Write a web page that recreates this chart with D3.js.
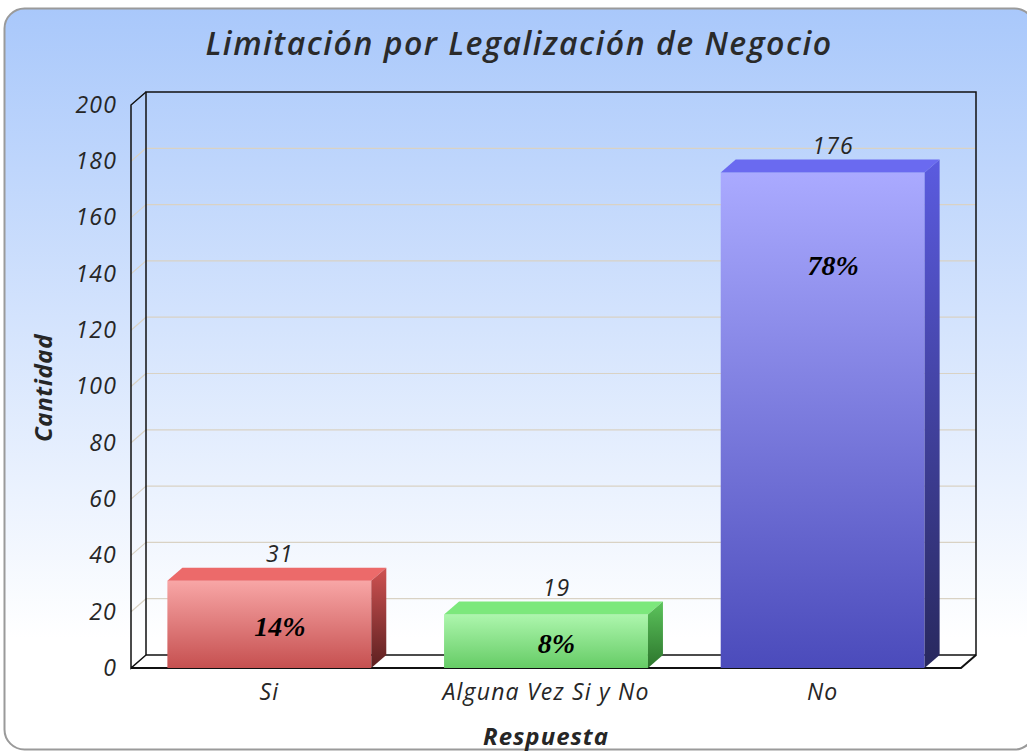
<!DOCTYPE html>
<html>
<head>
<meta charset="utf-8">
<script src="https://cdn.jsdelivr.net/npm/d3@7"></script>
<style>
  body { margin: 0; background: #fff; }
</style>
</head>
<body>
<div id="chart"></div>
<script>
'use strict';

const categories = ["Si", "Alguna Vez Si y No", "No"];
const counts = [31, 19, 176];
const percents = ["14%", "8%", "78%"];
const yTicks = [0, 20, 40, 60, 80, 100, 120, 140, 160, 180, 200];

// bar palettes: front top, front bottom, top face, side top, side bottom
const palettes = [
    ["#f8a6a6", "#c65050", "#ec6a6a", "#cf5252", "#5c2020"],
    ["#adf6ad", "#66cc66", "#7ce87c", "#5cc45c", "#2c752c"],
    ["#aaaaff", "#4b4bbb", "#6a6af0", "#5b5be0", "#28285e"]
];

const width = 1027, height = 752;
const plot = {left: 131, right: 961, top: 105, bottom: 668};
const depth = {dx: 15, dy: -13};
const sans = "'Open Sans', sans-serif";
const ink = "#262626";

const svg = d3.select("#chart").append("svg")
    .attr("width", width)
    .attr("height", height)
    .attr("font-family", sans);

const defs = svg.append("defs");

const bg = defs.append("linearGradient")
    .attr("id", "bg").attr("x1", 0).attr("y1", 0).attr("x2", 0).attr("y2", 1);
bg.append("stop").attr("offset", 0).attr("stop-color", "#a9c8fb");
bg.append("stop").attr("offset", 0.85).attr("stop-color", "#ffffff");
bg.append("stop").attr("offset", 1).attr("stop-color", "#ffffff");

palettes.forEach((p, i) => {
    const f = defs.append("linearGradient")
        .attr("id", "front" + i).attr("x1", 0).attr("y1", 0).attr("x2", 0).attr("y2", 1);
    f.append("stop").attr("offset", 0).attr("stop-color", p[0]);
    f.append("stop").attr("offset", 1).attr("stop-color", p[1]);
    const s = defs.append("linearGradient")
        .attr("id", "side" + i).attr("x1", 0).attr("y1", 0).attr("x2", 0).attr("y2", 1);
    s.append("stop").attr("offset", 0).attr("stop-color", p[3]);
    s.append("stop").attr("offset", 1).attr("stop-color", p[4]);
});

// panel
svg.append("rect")
    .attr("x", 4.5).attr("y", 8.5)
    .attr("width", 1030).attr("height", 741)
    .attr("rx", 20)
    .attr("fill", "url(#bg)")
    .attr("stroke", "#9a9a9a")
    .attr("stroke-width", 2);

svg.append("text")
    .attr("x", 519).attr("y", 55)
    .attr("text-anchor", "middle")
    .attr("font-size", 32)
    .attr("font-weight", 600)
    .attr("letter-spacing", 1.5)
    .attr("font-style", "italic")
    .attr("fill", "#2a2a2a")
    .text("Limitación por Legalización de Negocio");

const y = d3.scaleLinear().domain([0, 200]).range([plot.bottom, plot.top]);
const x = d3.scaleBand()
    .domain(categories)
    .range([plot.left, plot.right])
    .paddingInner(0.263)
    .paddingOuter(0.1315);

const g = svg.append("g");
const bx0 = plot.left + depth.dx, bx1 = plot.right + depth.dx;

// floor
g.append("polygon")
    .attr("points", [[plot.left, plot.bottom], [bx0, plot.bottom + depth.dy],
        [bx1, plot.bottom + depth.dy], [plot.right, plot.bottom]].join(" "))
    .attr("fill", "#ffffff");

// grid lines on back wall and left side wall
const inner = yTicks.filter(t => t > 0 && t < 200);
const grid = g.append("g")
    .attr("stroke", "#d9d2c4")
    .attr("stroke-width", 1.2);
grid.selectAll("line.back")
    .data(inner)
    .join("line")
    .attr("class", "back")
    .attr("x1", bx0).attr("x2", bx1)
    .attr("y1", d => y(d) + depth.dy).attr("y2", d => y(d) + depth.dy);
grid.selectAll("line.side")
    .data(inner)
    .join("line")
    .attr("class", "side")
    .attr("x1", plot.left).attr("x2", bx0)
    .attr("y1", d => y(d)).attr("y2", d => y(d) + depth.dy);

// frame
const frame = g.append("g")
    .attr("stroke", "#111")
    .attr("stroke-width", 1.5)
    .attr("fill", "none");
frame.append("path")
    .attr("d", `M${bx0},${plot.bottom + depth.dy}V${plot.top + depth.dy}H${bx1}V${plot.bottom + depth.dy}H${bx0}`);
frame.append("path")
    .attr("d", `M${bx0},${plot.top + depth.dy}L${plot.left},${plot.top}V${plot.bottom}L${bx0},${plot.bottom + depth.dy}`);
frame.append("path")
    .attr("d", `M${plot.left},${plot.bottom}H${plot.right}L${bx1},${plot.bottom + depth.dy}`)
    .attr("stroke-width", 2);

// bars
const bars = g.selectAll("g.bar")
    .data(categories.map((c, i) => ({cat: c, v: counts[i], pct: percents[i], i})))
    .join("g")
    .attr("class", "bar");

bars.append("rect")
    .attr("x", d => x(d.cat))
    .attr("y", d => y(d.v))
    .attr("width", x.bandwidth())
    .attr("height", d => y(0) - y(d.v))
    .attr("fill", d => `url(#front${d.i})`);

bars.append("polygon")
    .attr("points", d => {
        const x0 = x(d.cat), x1 = x0 + x.bandwidth(), yt = y(d.v);
        return [[x0, yt], [x0 + depth.dx, yt + depth.dy], [x1 + depth.dx, yt + depth.dy], [x1, yt]].join(" ");
    })
    .attr("fill", d => palettes[d.i][2]);

bars.append("polygon")
    .attr("points", d => {
        const x1 = x(d.cat) + x.bandwidth(), yt = y(d.v), yb = y(0);
        return [[x1, yt], [x1 + depth.dx, yt + depth.dy], [x1 + depth.dx, yb + depth.dy], [x1, yb]].join(" ");
    })
    .attr("fill", d => `url(#side${d.i})`);

bars.append("text")
    .attr("x", d => x(d.cat) + x.bandwidth() / 2 + depth.dx / 2 + 3)
    .attr("y", d => y(d.v) + depth.dy - 6)
    .attr("text-anchor", "middle")
    .attr("font-size", 23)
    .attr("letter-spacing", 1.2)
    .attr("font-style", "italic")
    .attr("fill", ink)
    .text(d => d.v);

bars.append("text")
    .attr("x", d => x(d.cat) + x.bandwidth() / 2 + depth.dx * 0.7)
    .attr("y", d => Math.min((y(d.v) + y(0)) / 2 + 2, y(d.v) + 93))
    .attr("dy", "0.35em")
    .attr("text-anchor", "middle")
    .attr("font-family", "'Liberation Serif', 'Times New Roman', serif")
    .attr("font-size", 28)
    .attr("font-weight", "bold")
    .attr("font-style", "italic")
    .attr("fill", "#000")
    .text(d => d.pct);

// y axis labels
const yAxis = svg.append("g")
    .attr("transform", `translate(${plot.left},0)`)
    .call(d3.axisLeft(y).tickValues(yTicks).tickSize(0).tickPadding(14));
yAxis.select(".domain").remove();
yAxis.selectAll("text")
    .attr("font-family", sans)
    .attr("font-size", 23)
    .attr("letter-spacing", 1.2)
    .attr("font-style", "italic")
    .attr("fill", ink);

// x axis labels
const xAxis = svg.append("g")
    .attr("transform", `translate(0,${plot.bottom})`)
    .call(d3.axisBottom(x).tickSize(0).tickPadding(16));
xAxis.select(".domain").remove();
xAxis.selectAll("text")
    .attr("font-family", sans)
    .attr("font-size", 23)
    .attr("letter-spacing", 1.2)
    .attr("font-style", "italic")
    .attr("fill", ink);

svg.append("text")
    .attr("transform", "translate(52,388) rotate(-90)")
    .attr("text-anchor", "middle")
    .attr("font-size", 24)
    .attr("letter-spacing", 0.6)
    .attr("font-weight", "bold")
    .attr("font-style", "italic")
    .attr("fill", ink)
    .text("Cantidad");

svg.append("text")
    .attr("x", 546).attr("y", 745)
    .attr("text-anchor", "middle")
    .attr("font-size", 24)
    .attr("letter-spacing", 1)
    .attr("font-weight", "bold")
    .attr("font-style", "italic")
    .attr("fill", ink)
    .text("Respuesta");
</script>
</body>
</html>
